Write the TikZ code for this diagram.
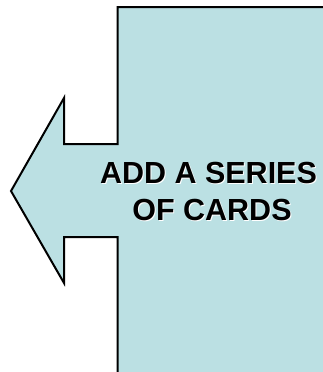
\documentclass[tikz,border=0pt]{standalone}
\usepackage{fontspec}
\setmainfont{Liberation Sans}
\definecolor{cardfill}{HTML}{BBE0E3}
\begin{document}
\begin{tikzpicture}[x=1pt,y=-1pt,
  lbl/.style={font=\bfseries\fontsize{30.5}{37}\selectfont, inner sep=0pt, anchor=base},
  shadowlbl/.style={lbl, text=white},
  mainlbl/.style={lbl, text=black}]
\useasboundingbox (0,0) rectangle (323,372);
\fill[white] (0,0) rectangle (323,372);
\begin{scope}
\clip (0,0) rectangle (323,372);
\draw[line width=2pt, fill=cardfill, line join=miter]
  (117.5,7) -- (330,7) -- (330,380) -- (117.5,380) -- (117.5,237)
  -- (64,237) -- (64,283) -- (11,191) -- (64,98) -- (64,144)
  -- (117.5,144) -- cycle;
\end{scope}
\node[shadowlbl] (s1) at (209.5,184) {ADD A SERIES};
\node[shadowlbl] (s2) at (213,221) {OF CARDS};
\node[mainlbl] (t1) at (208.5,183) {ADD A SERIES};
\node[mainlbl] (t2) at (212,220) {OF CARDS};
\end{tikzpicture}
\end{document}
